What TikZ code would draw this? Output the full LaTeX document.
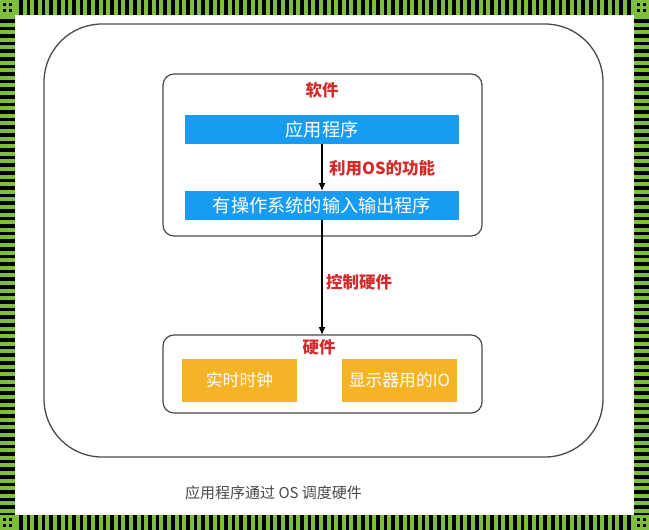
\documentclass[tikz,border=0pt]{standalone}
\usepackage{fontspec}
\newfontfamily\cjk{Noto Sans CJK SC}
\usetikzlibrary{arrows.meta}
\definecolor{stripegreen}{HTML}{7CBF3A}
\definecolor{barblue}{HTML}{189CF2}
\definecolor{barorange}{HTML}{F5B427}
\definecolor{labelred}{HTML}{D42A2A}
\definecolor{boxline}{HTML}{4A4A4A}
\definecolor{captiongray}{HTML}{4A4A4A}
\tikzset{
  frame/.style={draw=boxline, line width=1.2pt, rounded corners=11pt, minimum width=319pt, outer sep=0pt, inner sep=0pt},
  outerframe/.style={draw=boxline, line width=1.3pt, rounded corners=58pt, minimum width=559pt, minimum height=433pt, outer sep=0pt},
  bluebar/.style={fill=barblue, minimum width=274pt, minimum height=29pt, outer sep=0pt, inner sep=0pt, text=white, font=\cjk\fontsize{18.2}{19}\selectfont},
  orangebox/.style={fill=barorange, minimum width=115pt, minimum height=43pt, outer sep=0pt, inner sep=0pt, text=white, font=\cjk\fontsize{16.8}{18}\selectfont},
  redlabel/.style={text=labelred, inner sep=0pt, font=\cjk\bfseries\fontsize{16.5}{18}\selectfont},
  arr/.style={line width=1.4pt, -{Latex[length=8pt,width=7pt]}},
}
\begin{document}
\begin{tikzpicture}[x=1pt,y=-1pt]
\useasboundingbox (0,0) rectangle (649,530);
\fill[white] (0,0) rectangle (649,530);
% striped border
\fill[stripegreen] (0,0) rectangle (649,15);
\fill[stripegreen] (0,515) rectangle (649,530);
\fill[stripegreen] (0,0) rectangle (15,530);
\fill[stripegreen] (634,0) rectangle (649,530);
\foreach \i in {0,...,81} {
  \fill[black] (15+7.6*\i+4,0) rectangle (15+7.6*\i+7.6,15);
  \fill[black] (15+7.6*\i+4,515) rectangle (15+7.6*\i+7.6,530);
}
\foreach \i in {0,...,65} {
  \fill[black] (0,15+7.6*\i+4) rectangle (15,15+7.6*\i+7.6);
  \fill[black] (634,15+7.6*\i+4) rectangle (649,15+7.6*\i+7.6);
}
\foreach \cx/\cy in {0/0,634/0,0/515,634/515} {
  \fill[stripegreen] (\cx,\cy) rectangle (\cx+15,\cy+15);
  \fill[black] (\cx+3,\cy+3) rectangle (\cx+6,\cy+6);
  \fill[black] (\cx+9,\cy+3) rectangle (\cx+12,\cy+6);
  \fill[black] (\cx+3,\cy+9) rectangle (\cx+6,\cy+12);
  \fill[black] (\cx+9,\cy+9) rectangle (\cx+12,\cy+12);
}
% outer frame
\node[outerframe] (outer) at (323.5,240.5) {};
% software box
\node[frame, minimum height=162pt] (sw) at (322.5,155) {};
\node[redlabel] (swlabel) at (322,90) {软件};
\node[bluebar] (app) at (322,129.5) {应用程序};
\node[bluebar] (osio) at (322,205.5) {有操作系统的输入输出程序};
% hardware box
\node[frame, minimum height=78pt] (hw) at (322.5,374) {};
\node[redlabel] (hwlabel) at (319,347) {硬件};
\node[orangebox] (clock) at (239.5,380.5) {实时时钟};
\node[orangebox] (display) at (399.5,380.5) {显示器用的IO};
% arrows
\draw[arr] (app.south) -- (osio.north);
\draw[arr] (osio.south) -- (osio.south |- hw.north);
\node[redlabel, anchor=west] (uselabel) at (329,168) {利用OS的功能};
\node[redlabel, anchor=west] (ctrllabel) at (326,282) {控制硬件};
% caption
\node[anchor=west, inner sep=0pt, text=captiongray, font=\cjk\fontsize{15}{18}\selectfont] (caption) at (185,493) {应用程序通过 OS 调度硬件};
\end{tikzpicture}
\end{document}
